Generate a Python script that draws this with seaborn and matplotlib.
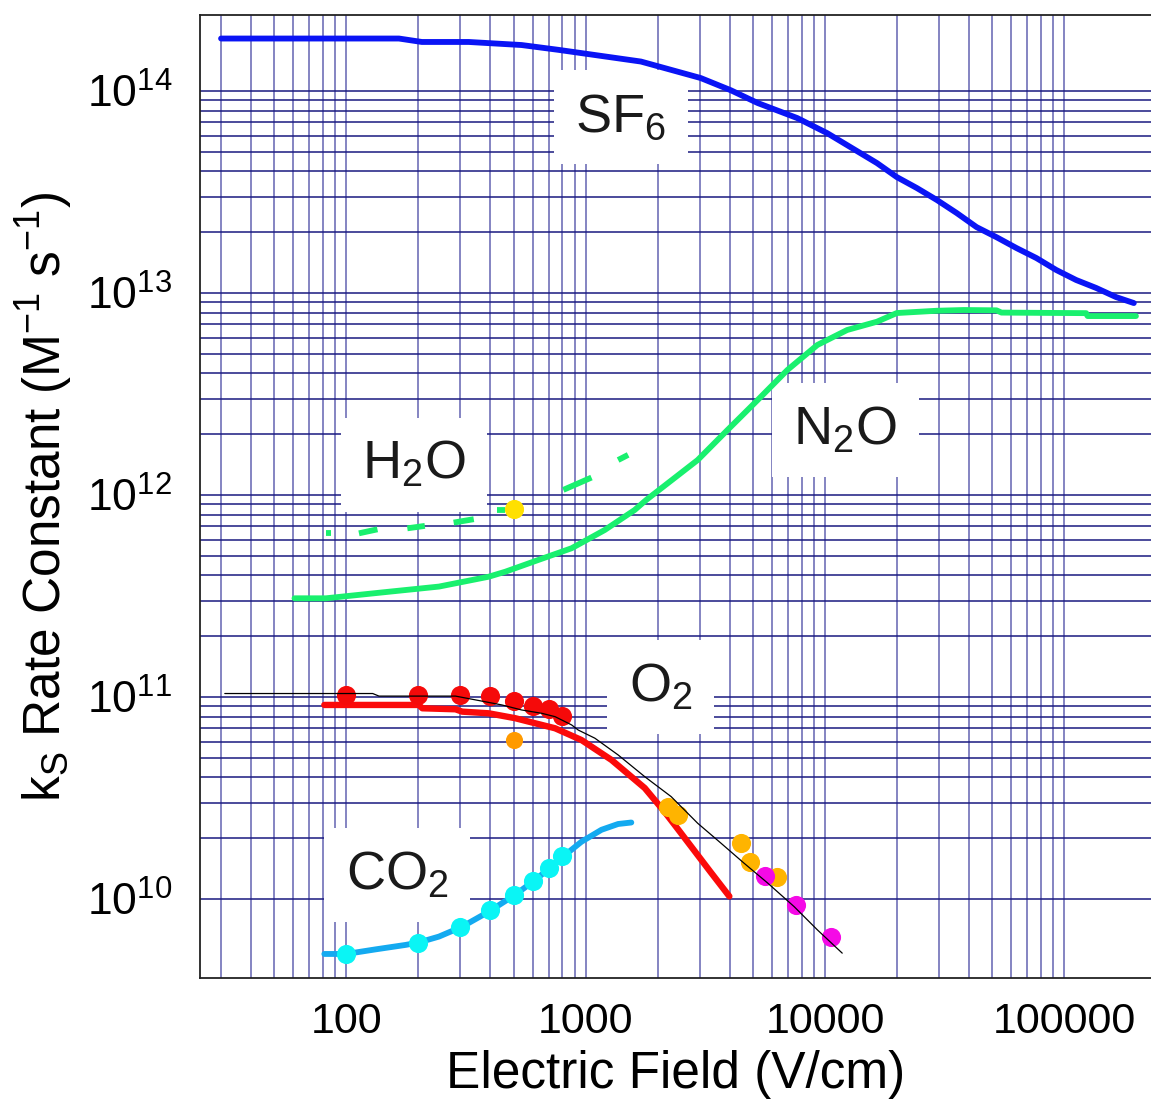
import numpy as np
import pandas as pd
import matplotlib
matplotlib.use("Agg")
import matplotlib.pyplot as plt
import seaborn as sns

# ---------------- data ----------------
sf6_x = [30, 166, 207, 325, 540, 769, 1702, 3025, 4036, 5228, 7656, 10210, 16480, 19950,
         24190, 29300, 35480, 42970, 52030, 63060, 76380, 92510, 111970, 135600, 164300, 195000]
sf6_y = [1.82e14, 1.82e14, 1.75e14, 1.75e14, 1.69e14, 1.60e14, 1.40e14, 1.16e14, 1.01e14,
         8.73e13, 7.35e13, 6.19e13, 4.40e13, 3.75e13, 3.31e13, 2.89e13, 2.49e13, 2.12e13,
         1.89e13, 1.67e13, 1.49e13, 1.30e13, 1.16e13, 1.06e13, 9.55e12, 8.92e12]

n2o_x = [60.8, 82.3, 151, 244, 394, 462, 635, 874, 1202, 1603, 1791, 2938, 3917, 5228,
         6966, 9290, 12370, 16480, 19950, 29300, 37940, 52030, 54590, 123300, 125000, 199000]
n2o_y = [3.08e11, 3.08e11, 3.32e11, 3.52e11, 3.94e11, 4.17e11, 4.77e11, 5.45e11, 6.71e11,
         8.43e11, 9.45e11, 1.49e12, 2.10e12, 2.95e12, 4.16e12, 5.53e12, 6.56e12, 7.21e12,
         7.96e12, 8.17e12, 8.24e12, 8.21e12, 8.00e12, 7.95e12, 7.69e12, 7.69e12]

# H2O: dashed pieces (segment id, x, y)
h2o_seg = [0, 0, 1, 1, 2, 2, 3, 3, 4, 4, 5, 5, 6, 6]
h2o_x = [82.3, 86, 113, 135, 180, 213, 281, 341, 426, 461, 807, 1058, 1367, 1505]
h2o_y = [6.46e11, 6.46e11, 6.46e11, 6.76e11, 6.84e11, 7.03e11, 7.30e11, 7.59e11,
         8.41e11, 8.41e11, 1.06e12, 1.22e12, 1.49e12, 1.58e12]
h2o_pt_x = [500]
h2o_pt_y = [8.50e11]

o2_x = [81, 201, 208, 286, 305, 394, 508, 615, 745, 961, 1282, 1766, 2137, 2427,
        2849, 3341, 3985]
o2_y = [9.13e10, 9.13e10, 8.79e10, 8.69e10, 8.46e10, 8.30e10, 7.85e10, 7.41e10, 7.00e10,
        6.12e10, 4.88e10, 3.54e10, 2.70e10, 2.22e10, 1.73e10, 1.35e10, 1.03e10]
o2_pt_x = [100, 200, 300, 400, 500, 600, 700, 800]
o2_pt_y = [1.02e11, 1.02e11, 1.02e11, 1.01e11, 9.6e10, 9.0e10, 8.7e10, 8.05e10]

o2_calc_x = [31.1, 129, 137, 286, 347, 447, 541, 656, 745, 874, 931, 1093, 1368, 1766,
             2277, 2938, 3673, 4599, 5754, 7430, 9290, 11800]
o2_calc_y = [1.04e11, 1.04e11, 1.01e11, 1.01e11, 9.67e10, 9.13e10, 8.62e10, 8.30e10,
             7.99e10, 7.27e10, 6.86e10, 6.25e10, 5.16e10, 4.03e10, 3.21e10, 2.37e10,
             1.89e10, 1.50e10, 1.20e10, 9.16e9, 7.03e9, 5.39e9]

orange_pt_x = [500]
orange_pt_y = [6.12e10]
amber_pt_x = [2208, 2427, 4447, 4870, 6286]
amber_pt_y = [2.86e10, 2.61e10, 1.89e10, 1.53e10, 1.29e10]
magenta_pt_x = [5600, 7584, 10620]
magenta_pt_y = [1.30e10, 9.34e9, 6.51e9]

co2_x = [81, 100, 133, 177, 200, 244, 305, 394, 508, 615, 721, 820, 961, 1165, 1367, 1552]
co2_y = [5.34e9, 5.34e9, 5.63e9, 5.92e9, 6.08e9, 6.51e9, 7.29e9, 8.65e9, 1.05e10, 1.24e10,
         1.45e10, 1.65e10, 1.92e10, 2.20e10, 2.35e10, 2.39e10]
co2_pt_x = [100, 200, 300, 400, 500, 600, 700, 800]
co2_pt_y = [5.34e9, 6.08e9, 7.24e9, 8.82e9, 1.04e10, 1.23e10, 1.42e10, 1.63e10]

species = ["SF$_\\mathregular{6}$", "N$_\\mathregular{2}$O", "H$_\\mathregular{2}$O",
           "O$_\\mathregular{2}$", "CO$_\\mathregular{2}$"]
species_x = [1404, 12140, 192, 2061, 163]
species_y = [7.43e13, 2.10e12, 1.41e12, 1.12e11, 1.31e10]

x_ticks = [100, 1000, 10000, 100000]
x_tick_labels = ["100", "1000", "10000", "100000"]
y_ticks = [1e10, 1e11, 1e12, 1e13, 1e14]
y_tick_labels = [r"$\mathregular{10^{10}}$", r"$\mathregular{10^{11}}$",
                 r"$\mathregular{10^{12}}$", r"$\mathregular{10^{13}}$",
                 r"$\mathregular{10^{14}}$"]

# ---------------- style ----------------
sns.set_theme(style="white")
plt.rcParams["font.family"] = ["Liberation Sans", "DejaVu Sans"]
plt.rcParams["mathtext.fontset"] = "custom"
plt.rcParams["mathtext.rm"] = "Liberation Sans"
plt.rcParams["mathtext.it"] = "Liberation Sans:italic"
plt.rcParams["mathtext.bf"] = "Liberation Sans:bold"

W, H = 1151, 1099
fig = plt.figure(figsize=(W / 100, H / 100), dpi=100)
ax = fig.add_axes([200 / W, 1 - 978 / H, 951 / W, 963 / H])
ax.set_xscale("log")
ax.set_yscale("log")
ax.set_xlim(24.5, 2.3e5)
ax.set_ylim(4.06e9, 2.38e14)

# grid
vgrid = [m * 10 ** e for e in range(1, 5) for m in range(1, 10)]
vgrid = [v for v in vgrid if v >= 30] + [1e5]
hgrid = [m * 10 ** e for e in range(10, 14) for m in range(1, 10)] + [1e14]
ax.vlines(vgrid, 0, 1, transform=ax.get_xaxis_transform(), colors="#5050a8",
          linewidth=1.4, alpha=0.7, zorder=0.5)
ax.hlines(hgrid, 0, 1, transform=ax.get_yaxis_transform(), colors="#1a1a80",
          linewidth=1.1, zorder=0.6)

# data lines
df_sf6 = pd.DataFrame({"x": sf6_x, "y": sf6_y})
df_n2o = pd.DataFrame({"x": n2o_x, "y": n2o_y})
df_h2o = pd.DataFrame({"seg": h2o_seg, "x": h2o_x, "y": h2o_y})
df_o2 = pd.DataFrame({"x": o2_x, "y": o2_y})
df_o2c = pd.DataFrame({"x": o2_calc_x, "y": o2_calc_y})
df_co2 = pd.DataFrame({"x": co2_x, "y": co2_y})

green = "#19f06e"
sns.lineplot(data=df_sf6, x="x", y="y", color="#0a14f5", lw=4.2, sort=False,
             estimator=None, ax=ax, zorder=3)
sns.lineplot(data=df_n2o, x="x", y="y", color=green, lw=4.2, sort=False,
             estimator=None, ax=ax, zorder=3)
sns.lineplot(data=df_h2o, x="x", y="y", units="seg", color=green, lw=4.2,
             estimator=None, sort=False, ax=ax, zorder=3, solid_capstyle="butt")
sns.lineplot(data=df_o2, x="x", y="y", color="#fb0a0a", lw=4.6, sort=False,
             estimator=None, ax=ax, zorder=3)
sns.lineplot(data=df_co2, x="x", y="y", color="#14aaf0", lw=4.2, sort=False,
             estimator=None, ax=ax, zorder=3)

# points
ms = 190
sns.scatterplot(x=o2_pt_x, y=o2_pt_y, color="#f50a0a", s=ms, linewidth=0, ax=ax, zorder=4)
sns.scatterplot(x=co2_pt_x, y=co2_pt_y, color="#0af5f5", s=ms, linewidth=0, ax=ax, zorder=4)
sns.scatterplot(x=h2o_pt_x, y=h2o_pt_y, color="#ffe000", s=ms, linewidth=0, ax=ax, zorder=4)
sns.scatterplot(x=orange_pt_x, y=orange_pt_y, color="#ff9a00", s=ms * 0.8, linewidth=0,
                ax=ax, zorder=4)
sns.scatterplot(x=amber_pt_x, y=amber_pt_y, color="#ffb400", s=ms, linewidth=0, ax=ax, zorder=4)
sns.scatterplot(x=magenta_pt_x, y=magenta_pt_y, color="#f50ae6", s=ms, linewidth=0,
                ax=ax, zorder=4)

# thin black calculated line on top
sns.lineplot(data=df_o2c, x="x", y="y", color="black", lw=0.9, sort=False,
             estimator=None, ax=ax, zorder=5)

# species labels
box = dict(boxstyle="square,pad=0.4", facecolor="white", edgecolor="none")
for txt, lx, ly in zip(species, species_x, species_y):
    ax.text(lx, ly, txt, fontsize=39, color="#1a1a1a", ha="center", va="center",
            bbox=box, zorder=2)

# axes, ticks and labels
ax.set_xticks(x_ticks)
ax.set_xticklabels(x_tick_labels)
ax.set_yticks(y_ticks)
ax.set_yticklabels(y_tick_labels)
ax.xaxis.set_minor_locator(matplotlib.ticker.NullLocator())
ax.yaxis.set_minor_locator(matplotlib.ticker.NullLocator())
ax.tick_params(axis="x", labelsize=31, length=0, pad=17, colors="black")
ax.tick_params(axis="y", labelsize=32, length=0, pad=20, colors="black")
for side in ["left", "bottom", "top"]:
    ax.spines[side].set_visible(True)
    ax.spines[side].set_color("#222222")
    ax.spines[side].set_linewidth(1.3)
ax.spines["right"].set_visible(False)

ax.set_xlabel("Electric Field (V/cm)", fontsize=37, color="black", labelpad=6)
ax.set_ylabel("k$_\\mathregular{S}$ Rate Constant (M$^\\mathregular{-1}$ s$^\\mathregular{-1}$)",
              fontsize=37, color="black", labelpad=8)

fig.savefig("out.png", dpi=100)
